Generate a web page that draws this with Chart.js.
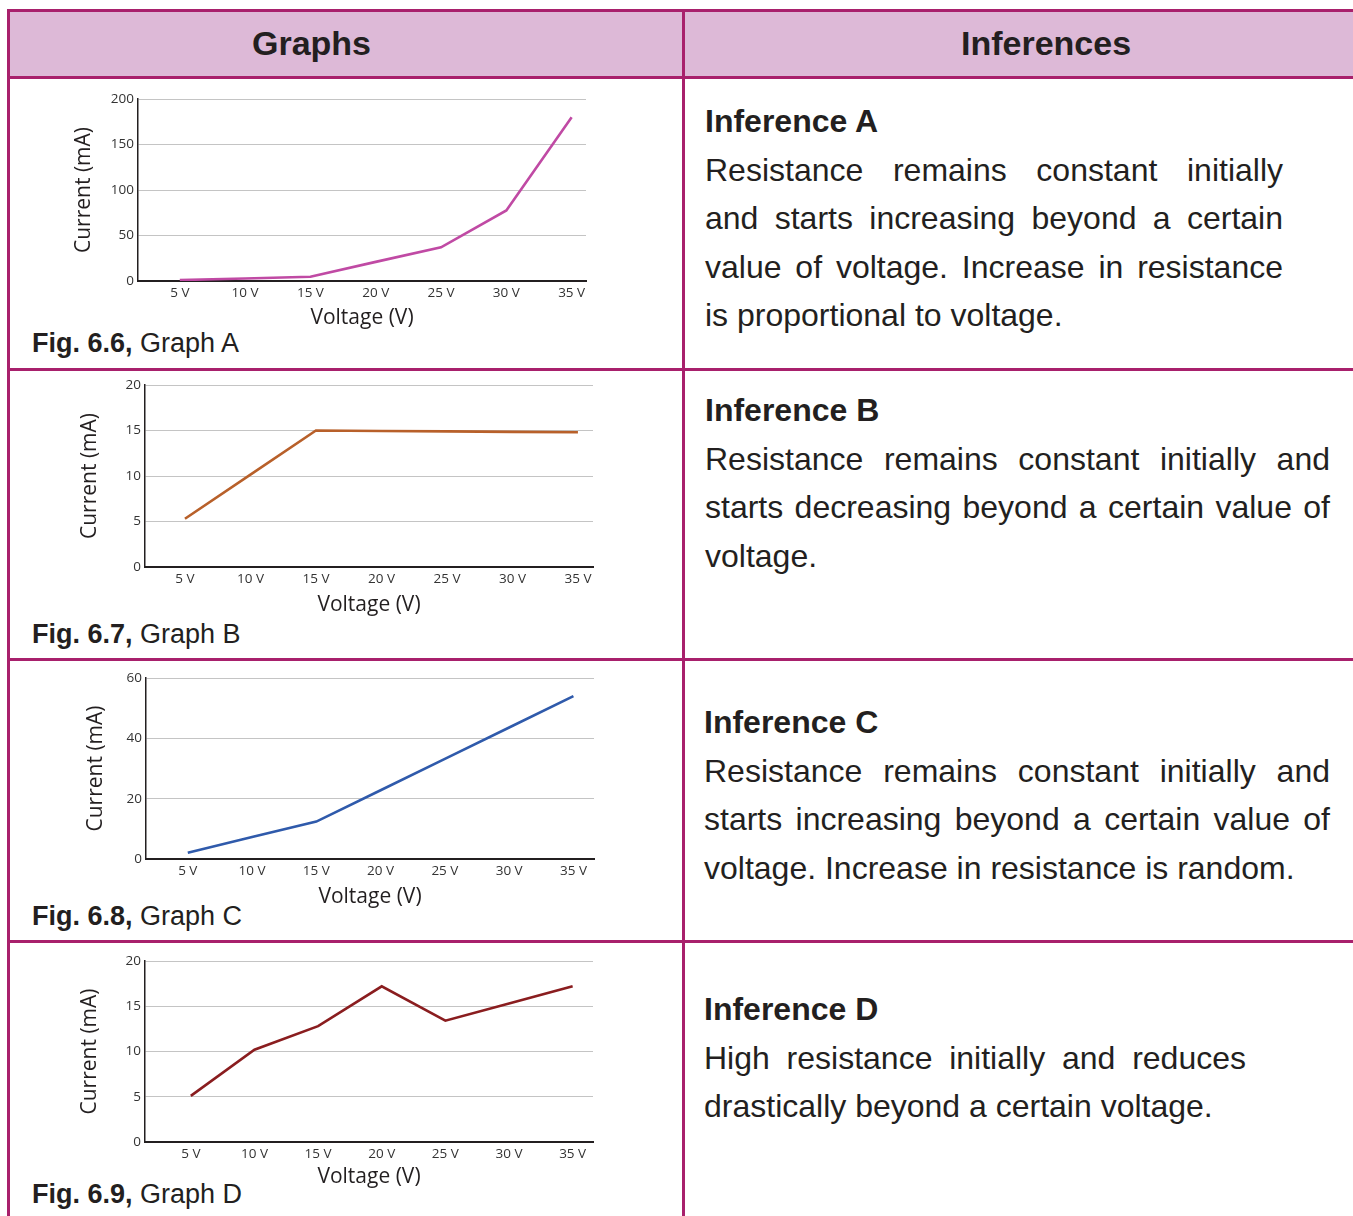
<!DOCTYPE html>
<html>
<head>
<meta charset="utf-8">
<script src="https://cdn.jsdelivr.net/npm/chart.js@4.4.0/dist/chart.umd.min.js"></script>
<style>
  body { margin: 0; background: #fff; width: 1353px; height: 1216px; overflow: hidden; position: relative;
         font-family: "Liberation Sans", Arial, sans-serif; color: #231f20; }
  .head { position: absolute; left: 8px; top: 10px; width: 1400px; height: 67px; background: #ddb9d7; }
  .hline { position: absolute; left: 7px; width: 1400px; height: 3px; background: #a8206c; }
  .vline { position: absolute; top: 9px; width: 3px; height: 1220px; background: #a8206c; }
  .ht { position: absolute; top: 23px; font-weight: bold; font-size: 34px; line-height: 40px; }
  .fig { position: absolute; left: 32px; font-size: 27px; line-height: 32px; }
  .inf { position: absolute; font-size: 32px; line-height: 48.5px; }
  .inf b { display: block; }
  .j { text-align: justify; text-align-last: justify; }
  canvas { position: absolute; }
</style>
</head>
<body>
<div class="head"></div>
<div class="hline" style="top:9px"></div>
<div class="hline" style="top:76px"></div>
<div class="hline" style="top:368px"></div>
<div class="hline" style="top:658px"></div>
<div class="hline" style="top:940px"></div>
<div class="vline" style="left:7px"></div>
<div class="vline" style="left:682px"></div>

<div class="ht" style="left:252px">Graphs</div>
<div class="ht" style="left:961px">Inferences</div>

<div class="fig" style="top:327px"><b>Fig. 6.6,</b> Graph A</div>
<div class="fig" style="top:618px"><b>Fig. 6.7,</b> Graph B</div>
<div class="fig" style="top:900px"><b>Fig. 6.8,</b> Graph C</div>
<div class="fig" style="top:1178px"><b>Fig. 6.9,</b> Graph D</div>

<div class="inf" style="left:705px;top:97px;width:578px">
  <b>Inference A</b>
  <div class="j">Resistance remains constant initially</div>
  <div class="j">and starts increasing beyond a certain</div>
  <div class="j">value of voltage. Increase in resistance</div>
  <div>is proportional to voltage.</div>
</div>
<div class="inf" style="left:705px;top:386px;width:625px">
  <b>Inference B</b>
  <div class="j">Resistance remains constant initially and</div>
  <div class="j">starts decreasing beyond a certain value of</div>
  <div>voltage.</div>
</div>
<div class="inf" style="left:704px;top:698px;width:626px">
  <b>Inference C</b>
  <div class="j">Resistance remains constant initially and</div>
  <div class="j">starts increasing beyond a certain value of</div>
  <div>voltage. Increase in resistance is random.</div>
</div>
<div class="inf" style="left:704px;top:985px;width:542px">
  <b>Inference D</b>
  <div class="j">High resistance initially and reduces</div>
  <div>drastically beyond a certain voltage.</div>
</div>

<canvas id="chartA"></canvas>
<canvas id="chartB"></canvas>
<canvas id="chartC"></canvas>
<canvas id="chartD"></canvas>

<script>
// data
const voltages = [5, 10, 15, 20, 25, 30, 35];
const xTicks = [5, 10, 15, 20, 25, 30, 35];
const currentA = [1, 2.8, 4.6, 21, 37, 77.5, 180];
const currentB = [5.3, 10.15, 15, 14.95, 14.9, 14.85, 14.8];
const currentC = [2.1, 7.3, 12.4, 22.8, 33.2, 43.6, 54];
const currentD = [5.1, 10.2, 12.8, 17.2, 13.4, 15.3, 17.2];
const yTicksA = [0, 50, 100, 150, 200];
const yTicksB = [0, 5, 10, 15, 20];
const yTicksC = [0, 20, 40, 60];
const yTicksD = [0, 5, 10, 15, 20];

const FONT = '"Open Sans", "DejaVu Sans", sans-serif';
const TITLE_SIZE = 21;
const LH = TITLE_SIZE * 1.2;

function makeChart(id, values, yTicks, color, box) {
  const cl = 30, cr = 610;
  const ct = box.top - 14;
  const ch = box.xTitleY + 18 - ct;
  const canvas = document.getElementById(id);
  canvas.width = cr - cl;
  canvas.height = ch;
  canvas.style.left = cl + 'px';
  canvas.style.top = ct + 'px';

  return new Chart(canvas.getContext('2d'), {
    type: 'line',
    data: {
      datasets: [{
        data: voltages.map((v, i) => ({ x: v, y: values[i] })),
        borderColor: color,
        borderWidth: 2.6,
        pointRadius: 0,
        tension: 0,
        fill: false
      }]
    },
    options: {
      responsive: false,
      animation: false,
      layout: { padding: { left: 0, top: box.top - ct, right: cr - box.right, bottom: 0 } },
      plugins: { legend: { display: false }, tooltip: { enabled: false } },
      scales: {
        x: {
          type: 'linear',
          min: box.xMin,
          max: box.xMax,
          afterBuildTicks: (s) => { s.ticks = xTicks.map(v => ({ value: v })); },
          afterFit: (s) => { s.height = ct + ch - box.bottom; },
          grid: { display: false, drawTicks: false },
          border: { display: true, color: '#231f20', width: 2 },
          ticks: {
            padding: 4,
            color: '#333',
            font: { family: FONT, size: 13.5 },
            callback: (v) => v + ' V'
          },
          title: {
            display: true,
            text: 'Voltage (V)',
            color: '#231f20',
            font: { family: FONT, size: TITLE_SIZE },
            padding: { top: 0, bottom: ct + ch - box.xTitleY - LH / 2 }
          }
        },
        y: {
          min: 0,
          max: yTicks[yTicks.length - 1],
          afterBuildTicks: (s) => { s.ticks = yTicks.map(v => ({ value: v })); },
          afterFit: (s) => { s.width = box.left - cl; },
          grid: { color: '#c4c4c4', lineWidth: 1, drawTicks: false },
          border: { display: true, color: '#231f20', width: 1.5 },
          ticks: {
            padding: 4,
            color: '#333',
            font: { family: FONT, size: 13.5 }
          },
          title: {
            display: true,
            text: 'Current (mA)',
            color: '#231f20',
            font: { family: FONT, size: TITLE_SIZE },
            padding: { top: box.yTitleX - cl - LH / 2, bottom: 0 }
          }
        }
      }
    }
  });
}

makeChart('chartA', currentA, yTicksA, '#c04aa4',
  { left: 138, right: 586, top: 99, bottom: 281, yTitleX: 84, xTitleY: 318, xMin: 1.8, xMax: 36.1 });
makeChart('chartB', currentB, yTicksB, '#b8602a',
  { left: 145, right: 593, top: 385, bottom: 567, yTitleX: 90, xTitleY: 605, xMin: 1.95, xMax: 36.15 });
makeChart('chartC', currentC, yTicksC, '#2f5aab',
  { left: 146, right: 594, top: 678, bottom: 859, yTitleX: 96, xTitleY: 897, xMin: 1.75, xMax: 36.6 });
makeChart('chartD', currentD, yTicksD, '#8a1d1f',
  { left: 145, right: 593, top: 961, bottom: 1142, yTitleX: 90, xTitleY: 1177, xMin: 1.4, xMax: 36.6 });
</script>
</body>
</html>
